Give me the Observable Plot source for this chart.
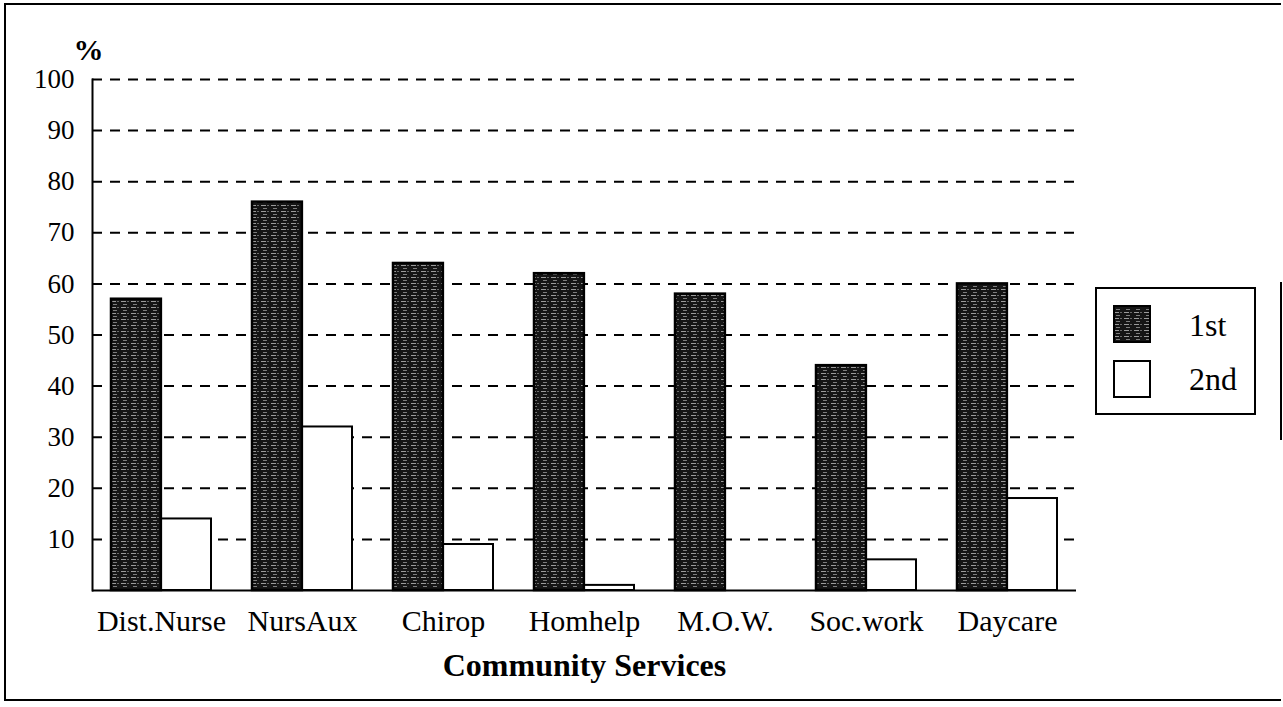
<!DOCTYPE html>
<html>
<head>
<meta charset="utf-8">
<script src="https://cdn.jsdelivr.net/npm/d3@7"></script>
<script src="https://cdn.jsdelivr.net/npm/@observablehq/plot@0.6"></script>
<style>
  html, body { margin: 0; padding: 0; background: #fff; }
  #wrap { position: relative; width: 1283px; height: 707px; overflow: hidden; font-family: "Liberation Serif", serif; }
  #frame { position: absolute; left: 4px; top: 3px; width: 1277px; height: 698px; border-left: 2px solid #000; border-top: 2px solid #000; border-bottom: 2px solid #000; box-sizing: border-box; }
  #rightEdge { position: absolute; left: 1280px; top: 282px; width: 2px; height: 158px; background: #000; }
  #chart { position: absolute; left: 0; top: 0; }
  #legend { position: absolute; left: 1095px; top: 287px; width: 161px; height: 128px; border: 2px solid #000; box-sizing: border-box; background: #fff; }
  .sw { position: absolute; left: 16px; width: 38px; height: 38px; }
  .lt { position: absolute; left: 92px; font-size: 32px; line-height: 32px; color: #000; }
</style>
</head>
<body>
<svg width="0" height="0" style="position:absolute">
  <defs>
    <pattern id="tex" width="10" height="6" patternUnits="userSpaceOnUse">
      <rect width="10" height="6" fill="#151515"/>
      <rect x="1" y="1" width="5" height="1" fill="#9a9a9a"/>
      <rect x="7" y="1" width="2" height="1" fill="#6a6a6a"/>
      <rect x="3" y="4" width="4" height="1" fill="#7d7d7d"/>
    </pattern>
  </defs>
</svg>
<div id="wrap">
  <div id="frame"></div>
  <div id="rightEdge"></div>
  <div id="chart"></div>
  <div id="legend">
    <svg class="sw" style="top:16px" viewBox="0 0 38 38"><rect x="1" y="1" width="36" height="36" fill="url(#tex)" stroke="#000" stroke-width="2"/></svg>
    <div class="lt" style="top:20px">1st</div>
    <svg class="sw" style="top:71px" viewBox="0 0 38 38"><rect x="1" y="1" width="36" height="36" fill="#fff" stroke="#000" stroke-width="2"/></svg>
    <div class="lt" style="top:74px">2nd</div>
  </div>
</div>
<script>
const categories = ["Dist.Nurse", "NursAux", "Chirop", "Homhelp", "M.O.W.", "Soc.work", "Daycare"];
const first = [57, 76, 64, 62, 58, 44, 60];
const second = [14, 32, 9, 1, 0, 6, 18];
const yTicks = [10, 20, 30, 40, 50, 60, 70, 80, 90, 100];
const axisTitle = "Community Services";
const unitLabel = "%";

const rows1 = categories.map((c, i) => ({cat: c, value: first[i]}));
const rows2 = categories.map((c, i) => ({cat: c, value: second[i]}));

const W = 1283, H = 707, mL = 92, mR = 207, mT = 79, mB = 117;
const pIn = 0.29, pOut = 0.13;
const step = (W - mL - mR) / (categories.length - pIn + 2 * pOut);
const half = step * (1 - pIn) / 2;

const chart = Plot.plot({
  width: W,
  height: H,
  marginLeft: mL,
  marginRight: mR,
  marginTop: mT,
  marginBottom: mB,
  style: {fontFamily: "Liberation Serif", color: "#000", background: "transparent", overflow: "visible"},
  x: {domain: categories, paddingInner: pIn, paddingOuter: pOut, axis: null},
  y: {domain: [0, 100], axis: null},
  marks: [
    Plot.gridY(yTicks, {stroke: "#000", strokeOpacity: 1, strokeWidth: 2, strokeDasharray: "10,8"}),
    Plot.barY(rows1, {x: "cat", y: "value", fill: "url(#tex)", stroke: "#000", strokeWidth: 2.5, insetRight: half, insetLeft: 0}),
    Plot.barY(rows2, {x: "cat", y: "value", fill: "#fff", stroke: "#000", strokeWidth: 2, insetLeft: half, insetRight: 0}),
    Plot.ruleY([0], {stroke: "#000", strokeWidth: 2}),
    Plot.frame({anchor: "left", stroke: "#000", strokeWidth: 2}),
    Plot.axisY(yTicks, {tickSize: 0, tickPadding: 18, fontSize: 27, label: null}),
    Plot.axisX({tickSize: 0, tickPadding: 19, fontSize: 30, label: null}),
    Plot.text([axisTitle], {frameAnchor: "bottom", dy: 75, fontWeight: "bold", fontSize: 32, textAnchor: "middle", lineAnchor: "middle"}),
    Plot.text([unitLabel], {frameAnchor: "top-left", dx: -4, dy: -29, fontWeight: "bold", fontSize: 30, textAnchor: "middle", lineAnchor: "middle"})
  ]
});
document.getElementById("chart").appendChild(chart);
</script>
</body>
</html>
